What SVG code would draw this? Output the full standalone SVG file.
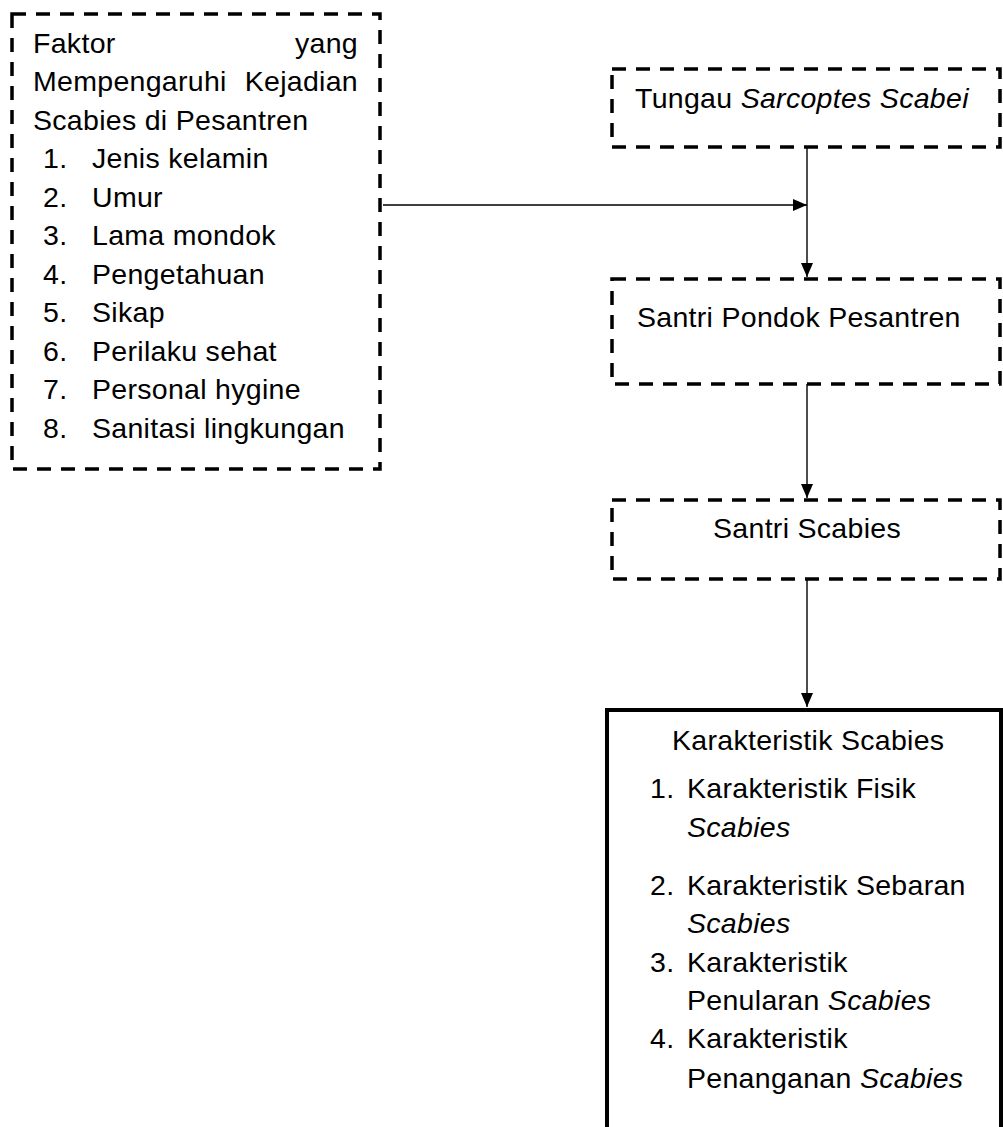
<svg xmlns="http://www.w3.org/2000/svg" width="1003" height="1127" viewBox="0 0 1003 1127" font-family="'Liberation Sans', Arial, Helvetica, sans-serif">
<style>
text{font-family:'Liberation Sans',Arial,Helvetica,sans-serif;font-size:28.5px;letter-spacing:0.3px;fill:#000}
.i{font-style:italic}
.dash{fill:none;stroke:#000;stroke-width:3.5;stroke-dasharray:14 10}
.solid{fill:none;stroke:#000;stroke-width:4}
.conn{fill:none;stroke:#000;stroke-width:1.4}
</style>
<defs>
<marker id="arr" viewBox="0 0 14 12" refX="14" refY="6" markerWidth="14" markerHeight="12" markerUnits="userSpaceOnUse" orient="auto">
<path d="M0,0 L14,6 L0,12 Z" fill="#000"/>
</marker>
</defs>
<rect width="1003" height="1127" fill="#fff"/>
<g id="faktor">
<rect class="dash" x="12" y="14" width="368" height="455"/>
<text x="33" y="53">Faktor</text>
<text x="358" y="53" text-anchor="end">yang</text>
<text x="33" y="91">Mempengaruhi</text>
<text x="358" y="91" text-anchor="end">Kejadian</text>
<text x="33" y="130">Scabies di Pesantren</text>
<text x="43" y="168">1.</text><text x="92" y="168">Jenis kelamin</text>
<text x="43" y="207">2.</text><text x="92" y="207">Umur</text>
<text x="43" y="245">3.</text><text x="92" y="245">Lama mondok</text>
<text x="43" y="284">4.</text><text x="92" y="284">Pengetahuan</text>
<text x="43" y="322">5.</text><text x="92" y="322">Sikap</text>
<text x="43" y="361">6.</text><text x="92" y="361">Perilaku sehat</text>
<text x="43" y="399">7.</text><text x="92" y="399">Personal hygine</text>
<text x="43" y="438">8.</text><text x="92" y="438">Sanitasi lingkungan</text>
</g>
<g id="tungau">
<rect class="dash" x="612" y="69" width="388" height="78"/>
<text x="635" y="108">Tungau <tspan class="i">Sarcoptes Scabei</tspan></text>
</g>
<g id="santri-pondok">
<rect class="dash" x="612" y="279" width="388" height="105"/>
<text x="637" y="327">Santri Pondok Pesantren</text>
</g>
<g id="santri-scabies">
<rect class="dash" x="612" y="500" width="388" height="79"/>
<text x="807" y="538" text-anchor="middle">Santri Scabies</text>
</g>
<g id="karakteristik">
<rect class="solid" x="607" y="710" width="394" height="440"/>
<text x="672" y="750">Karakteristik Scabies</text>
<text x="650" y="798">1.</text><text x="687" y="798">Karakteristik Fisik</text>
<text x="687" y="837" class="i">Scabies</text>
<text x="650" y="895">2.</text><text x="687" y="895">Karakteristik Sebaran</text>
<text x="687" y="933" class="i">Scabies</text>
<text x="650" y="972">3.</text><text x="687" y="972">Karakteristik</text>
<text x="687" y="1010">Penularan <tspan class="i">Scabies</tspan></text>
<text x="650" y="1048">4.</text><text x="687" y="1048">Karakteristik</text>
<text x="687" y="1088">Penanganan <tspan class="i">Scabies</tspan></text>
</g>
<g id="connectors">
<line class="conn" x1="383" y1="205" x2="807" y2="205" marker-end="url(#arr)"/>
<line class="conn" x1="807" y1="147" x2="807" y2="277" marker-end="url(#arr)"/>
<line class="conn" x1="807" y1="384" x2="807" y2="498" marker-end="url(#arr)"/>
<line class="conn" x1="807" y1="579" x2="807" y2="707" marker-end="url(#arr)"/>
</g>
</svg>
